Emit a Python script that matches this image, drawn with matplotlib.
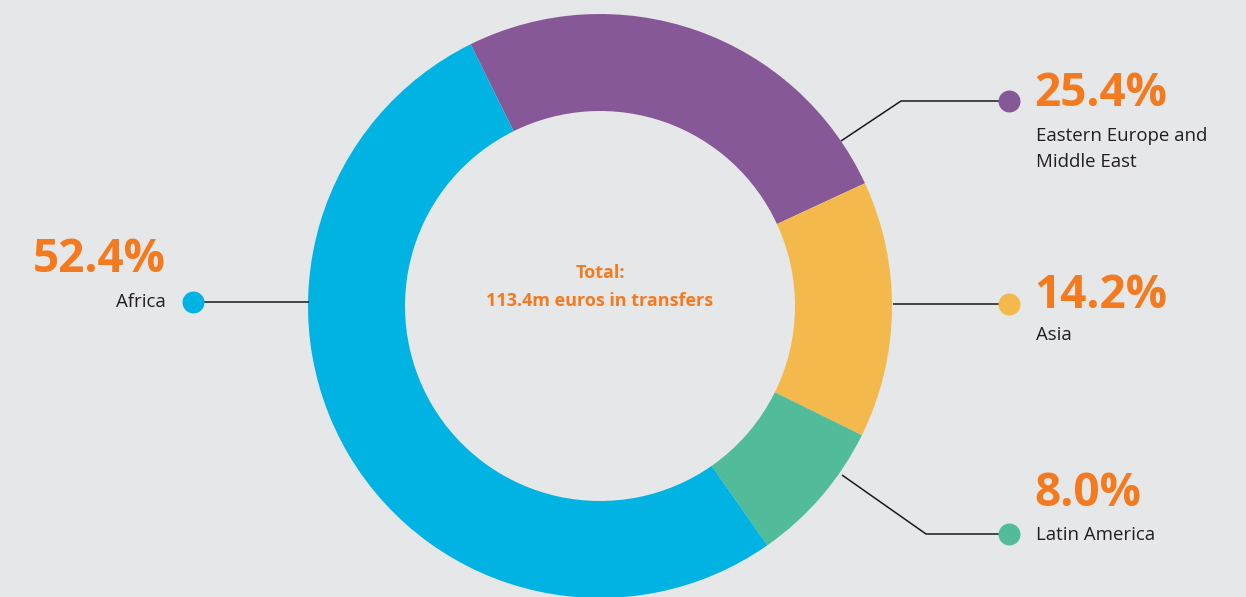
import matplotlib
matplotlib.use("Agg")
import matplotlib.pyplot as plt

# ---- data ----
regions = ["Eastern Europe and\nMiddle East", "Asia", "Latin America", "Africa"]
shares = [25.4, 14.2, 8.0, 52.4]
pct_labels = ["25.4%", "14.2%", "8.0%", "52.4%"]
colors = ["#875897", "#f4b94c", "#52bb9a", "#00b3e3"]
total_title = "Total:"
total_text = "113.4m euros in transfers"

BG = "#e6e7e8"
ORANGE = "#f47a20"
W, H = 1246, 597

fig = plt.figure(figsize=(W / 100, H / 100), dpi=100, facecolor=BG)
ax = fig.add_axes([0, 0, 1, 1], facecolor=BG)

def Y(y):
    return H - y

cx, cy = 600, Y(306)
R_out, ring = 292, 97
ax.pie(shares, colors=colors, startangle=116.3, counterclock=False,
       center=(cx, cy), radius=R_out, frame=True,
       wedgeprops=dict(width=ring, linewidth=0))
ax.set_xlim(0, W)
ax.set_ylim(0, H)
ax.set_aspect("equal")
ax.axis("off")

# leader lines (image coordinates) : ring point, elbow, dot
leaders = [
    [(841, 141), (901, 101), (1009, 101)],
    [(893, 304), (1009, 304)],
    [(842, 475), (926, 534), (1009, 534)],
    [(309, 302), (193, 302)],
]
for pts, col in zip(leaders, colors):
    xs = [p[0] for p in pts]
    ys = [Y(p[1]) for p in pts]
    ax.plot(xs, ys, color="#1a1a1a", lw=1.1, zorder=3, solid_capstyle="butt")
    ax.scatter([xs[-1]], [ys[-1]], s=250, color=col, zorder=4, linewidths=0)

fam = ["Open Sans", "DejaVu Sans"]
# percentage + label positions (image coords)
pct_pos = [(1034, 93, "left"), (1034, 296, "left"), (1034, 493, "left"), (166, 259, "right")]
lab_pos = [(1036, 149, "left"), (1036, 335, "left"), (1036, 535, "left"), (166, 302, "right")]
for (px, py, ha), txt in zip(pct_pos, pct_labels):
    ax.text(px, Y(py), txt, color=ORANGE, fontsize=33, fontweight="bold",
            family=fam, ha=ha, va="center")
for (lx, ly, ha), txt in zip(lab_pos, regions):
    ax.text(lx, Y(ly), txt, color="#231f20", fontsize=13.4, family=fam,
            ha=ha, va="center", linespacing=1.6)

ax.text(cx, Y(273), total_title, color=ORANGE, fontsize=13, fontweight="bold",
        family=fam, ha="center", va="center")
ax.text(cx, Y(301), total_text, color=ORANGE, fontsize=13, fontweight="bold",
        family=fam, ha="center", va="center")

fig.savefig("out.png", dpi=100, facecolor=BG)
